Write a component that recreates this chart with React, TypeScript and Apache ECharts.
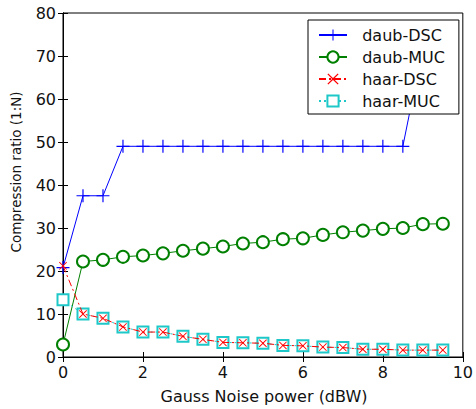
import React, { useEffect, useRef } from "react";
import * as echarts from "echarts";

const noisePower = [0, 0.5, 1, 1.5, 2, 2.5, 3, 3.5, 4, 4.5, 5, 5.5, 6, 6.5, 7, 7.5, 8, 8.5, 9, 9.5];
const daubDSC = [20.8, 37.5, 37.5, 49, 49, 49, 49, 49, 49, 49, 49, 49, 49, 49, 49, 49, 49, 49, 72, 74];
const daubMUC = [2.9, 22.2, 22.6, 23.3, 23.6, 24.1, 24.7, 25.2, 25.7, 26.4, 26.7, 27.4, 27.6, 28.4, 29.0, 29.4, 29.8, 30.0, 30.9, 31.0];
const haarDSC = [21.2, 10.0, 9.0, 7.0, 5.8, 5.8, 4.8, 4.1, 3.4, 3.3, 3.2, 2.7, 2.6, 2.3, 2.2, 1.8, 1.8, 1.6, 1.6, 1.6];
const haarMUC = [13.3, 10.0, 9.0, 7.0, 5.8, 5.8, 4.8, 4.1, 3.4, 3.3, 3.2, 2.7, 2.6, 2.3, 2.2, 1.8, 1.8, 1.6, 1.6, 1.6];
const seriesNames = ["daub-DSC", "daub-MUC", "haar-DSC", "haar-MUC"];
const xTitle = "Gauss Noise power (dBW)";
const yTitle = "Compression ratio (1:N)";

const PLUS = "path://M4.55,0 H5.45 V4.55 H10 V5.45 H5.45 V10 H4.55 V5.45 H0 V4.55 H4.55 Z";
const CROSS = "path://M0,0.8 L0.8,0 L5,4.2 L9.2,0 L10,0.8 L5.8,5 L10,9.2 L9.2,10 L5,5.8 L0.8,10 L0,9.2 L4.2,5 Z";

const pairs = (ys: number[]) => noisePower.map((x, i) => [x, ys[i]]);

export default function App() {
  const ref = useRef<HTMLDivElement>(null);
  useEffect(() => {
    if (!ref.current) return;
    const chart = echarts.init(ref.current, undefined, { renderer: "svg" });
    const font = "DejaVu Sans";
    const tickAxis = {
      min: 0,
      axisLine: { show: true, lineStyle: { color: "#000", width: 1 } },
      axisTick: { show: true, inside: true, length: 5, lineStyle: { color: "#000" } },
      splitLine: { show: false },
    };
    chart.setOption({
      animation: false,
      backgroundColor: "#fff",
      textStyle: { fontFamily: font },
      grid: { left: 63, right: 9, top: 13, bottom: 52, show: true, borderColor: "#000", borderWidth: 1, backgroundColor: "transparent" },
      xAxis: [
        {
          ...tickAxis,
          type: "value",
          max: 10,
          interval: 2,
          position: "bottom",
          axisLabel: { color: "#111", fontSize: 16, fontFamily: font, margin: 7 },
        },
        {
          ...tickAxis,
          type: "value",
          max: 10,
          interval: 2,
          position: "top",
          axisLabel: { show: false },
        },
      ],
      yAxis: [
        {
          ...tickAxis,
          type: "value",
          max: 80,
          interval: 10,
          position: "left",
          axisLabel: { color: "#111", fontSize: 16, fontFamily: font, margin: 7 },
        },
        {
          ...tickAxis,
          type: "value",
          max: 80,
          interval: 10,
          position: "right",
          axisLabel: { show: false },
        },
      ],
      legend: {
        data: seriesNames,
        orient: "vertical",
        left: 308,
        top: 20,
        padding: [7, 14, 5, 10],
        itemWidth: 28,
        itemHeight: 14,
        itemGap: 6,
        backgroundColor: "#fff",
        borderColor: "#000",
        borderWidth: 1,
        borderRadius: 0,
        formatter: (n: string) => "  " + n,
        textStyle: { color: "#111", fontSize: 16, fontFamily: font },
      },
      series: [
        {
          name: seriesNames[0],
          type: "line",
          data: pairs(daubDSC),
          symbol: PLUS,
          symbolSize: 13,
          color: "#0000ff",
          itemStyle: { color: "#0000ff", borderWidth: 0 },
          lineStyle: { color: "#0000ff", width: 1 },
          clip: true,
          z: 2,
        },
        {
          name: seriesNames[1],
          type: "line",
          data: pairs(daubMUC),
          symbol: "emptyCircle",
          symbolSize: 12,
          color: "#008000",
          itemStyle: { color: "#008000", borderWidth: 1 },
          lineStyle: { color: "#008000", width: 1 },
          z: 2,
        },
        {
          name: seriesNames[2],
          type: "line",
          data: pairs(haarDSC),
          symbol: CROSS,
          symbolSize: 8,
          color: "#ff0000",
          itemStyle: { color: "#ff0000", borderWidth: 0 },
          lineStyle: { color: "#ff0000", width: 1, type: [7, 3, 2, 3] },
          z: 4,
        },
        {
          name: seriesNames[3],
          type: "line",
          data: pairs(haarMUC),
          symbol: "emptyRect",
          symbolSize: 11,
          color: "#1ec8c8",
          itemStyle: { color: "#1ec8c8", borderWidth: 1.2 },
          lineStyle: { color: "#1ec8c8", width: 1, type: [2, 3] },
          z: 3,
        },
      ],
      graphic: [
        {
          type: "text",
          x: 264,
          y: 396,
          style: { text: xTitle, fill: "#111", font: `16px "${font}"`, align: "center", verticalAlign: "middle" },
        },
        {
          type: "text",
          x: 16,
          y: 172,
          rotation: Math.PI / 2,
          style: { text: yTitle, fill: "#111", font: `13.5px "${font}"`, align: "center", verticalAlign: "middle" },
        },
      ],
    });
    return () => chart.dispose();
  }, []);
  return <div ref={ref} style={{ position: "fixed", left: 0, top: 0, width: 476, height: 409 }} />;
}
